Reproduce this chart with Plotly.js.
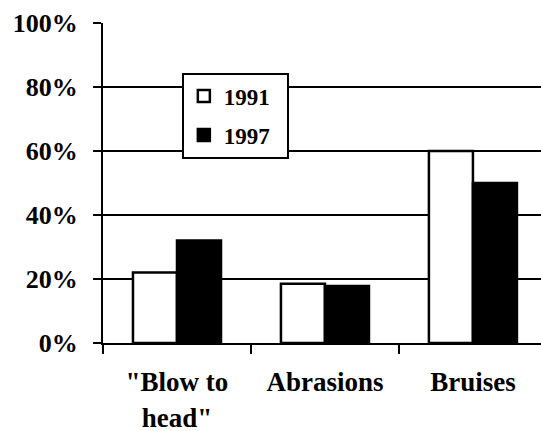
<!DOCTYPE html>
<html>
<head>
<meta charset="utf-8">
<script src="https://cdn.plot.ly/plotly-3.0.1.min.js"></script>
<style>html,body{margin:0;padding:0;background:#fff;overflow:hidden;}</style>
</head>
<body>
<div id="chart" style="width:541px;height:431px;"></div>
<script>
const categories = ['"Blow to<br>head"', 'Abrasions', 'Bruises'];
const series1991 = [0.22, 0.185, 0.60];
const series1997 = [0.32, 0.178, 0.50];
const seriesNames = ['1991', '1997'];
const yTicks = [0, 0.2, 0.4, 0.6, 0.8, 1.0];
const yTickLabels = ['0%', '20%', '40%', '60%', '80%', '100%'];

const fontFam = 'Liberation Serif, Times New Roman, serif';
const pad = '\u00a0\u00a0';

const traces = [
  {type: 'bar', name: seriesNames[0] + pad, x: categories, y: series1991, legendgroup: 'a',
   marker: {color: '#ffffff', line: {color: '#000', width: 2.5}}},
  {type: 'bar', name: seriesNames[1] + pad, x: categories, y: series1997, legendgroup: 'b',
   marker: {color: '#000000', line: {color: '#000', width: 2.5}}}
];

const layout = {
  width: 541, height: 431,
  margin: {l: 103, r: 0, t: 23, b: 88},
  paper_bgcolor: '#fff', plot_bgcolor: '#fff',
  font: {family: fontFam, color: '#000'},
  barmode: 'group', bargap: 0.405, bargroupgap: 0,
  showlegend: true,
  legend: {x: 0.18, y: 0.845, xanchor: 'left', yanchor: 'top',
           bgcolor: '#fff', bordercolor: '#000', borderwidth: 2,
           font: {family: fontFam, size: 23, color: '#000', weight: 'bold'},
           tracegroupgap: 6, traceorder: 'grouped'},
  xaxis: {type: 'category', range: [-0.5, 2.46], showgrid: false, zeroline: false,
          showline: true, linecolor: '#000', linewidth: 2,
          ticks: 'outside', tickson: 'boundaries', ticklen: 9, tickwidth: 2, tickcolor: '#000',
          ticklabelstandoff: 14,
          tickfont: {family: fontFam, size: 27, color: '#000', weight: 'bold'}},
  yaxis: {range: [0, 1], tickvals: yTicks, ticktext: yTickLabels,
          showgrid: true, gridcolor: '#000', gridwidth: 2, zeroline: false,
          showline: true, linecolor: '#000', linewidth: 2,
          ticks: 'outside', ticklen: 8, tickwidth: 2, tickcolor: '#000',
          ticklabelstandoff: 10,
          tickfont: {family: fontFam, size: 26, color: '#000', weight: 'bold'}}
};

Plotly.newPlot('chart', traces, layout, {displayModeBar: false, staticPlot: true});
</script>
</body>
</html>
